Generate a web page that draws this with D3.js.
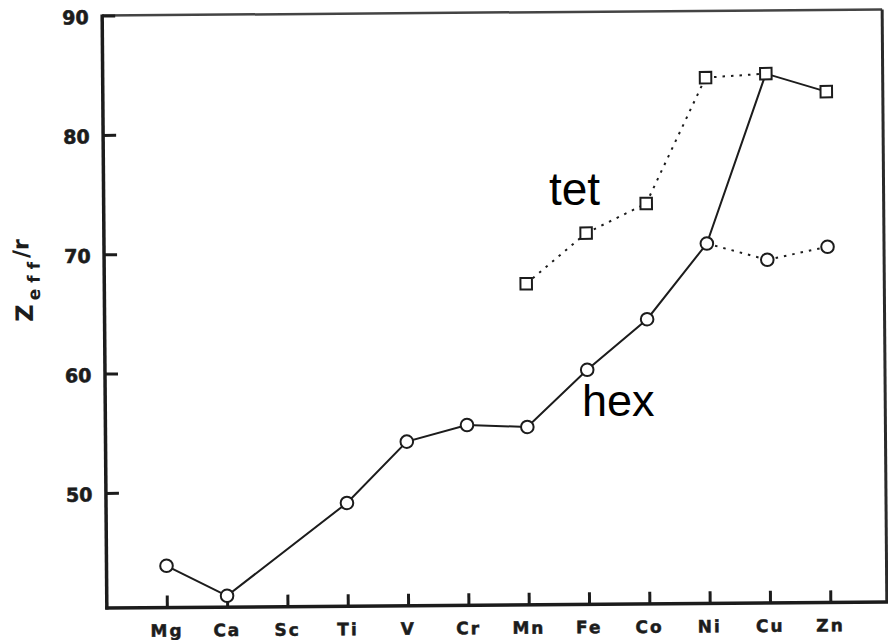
<!DOCTYPE html>
<html>
<head>
<meta charset="utf-8">
<script src="https://cdn.jsdelivr.net/npm/d3@7"></script>
<style>
  html, body { margin: 0; padding: 0; background: #fff; }
  svg { display: block; }
</style>
</head>
<body>
<svg id="chart" width="888" height="640"></svg>
<script>
// Elements along the first transition row
const categories = ["Mg", "Ca", "Sc", "Ti", "V", "Cr", "Mn", "Fe", "Co", "Ni", "Cu", "Zn"];
// Z_eff / r for hexacoordinated (octahedral) sites
const hexValues = [43.85, 41.3, null, 49.0, 54.1, 55.45, 55.25, 60.0, 64.2, 70.5, 69.1, 70.15];
// Z_eff / r for tetrahedral sites
const tetValues = [null, null, null, null, null, null, 67.25, 71.45, 73.9, 84.4, 84.7, 83.15];
// Which coordination gives the preferred (solid-line) value for each element
const preferred = ["hex", "hex", "hex", "hex", "hex", "hex", "hex", "hex", "hex", "hex", "tet", "tet"];
const yTicks = [50, 60, 70, 80, 90];
const yDomain = [40.35, 90];

const svg = d3.select("#chart");
const ink = "#1c1c1c";

const plotLeft = 104.5, plotRight = 884.5, plotTop = 12.5, plotBottom = 605;

const x = d3.scalePoint().domain(categories).range([164.5, 828]);
const y = d3.scaleLinear().domain(yDomain).range([plotBottom, plotTop]);

const seriesValues = { hex: hexValues, tet: tetValues };

// the whole plotted sheet sits very slightly askew
const g = svg.append("g").attr("transform", "rotate(-0.45, 495, 310)");

// frame
g.append("line").attr("x1", plotLeft).attr("x2", plotRight).attr("y1", plotTop).attr("y2", plotTop)
  .attr("stroke", "#444").attr("stroke-width", 2.5);
g.append("line").attr("x1", plotRight).attr("x2", plotRight).attr("y1", plotTop).attr("y2", plotBottom)
  .attr("stroke", "#2a2a2a").attr("stroke-width", 3);

// y axis, ticks pointing inward
const yAxis = d3.axisRight(y).tickValues(yTicks).tickSize(13).tickFormat("");
const ya = g.append("g").attr("transform", `translate(${plotLeft},0)`).call(yAxis);
ya.select(".domain").remove();
ya.selectAll(".tick line").attr("stroke", ink).attr("stroke-width", 3);
g.append("line").attr("x1", plotLeft).attr("x2", plotLeft).attr("y1", plotTop - 1).attr("y2", plotBottom + 1.5)
  .attr("stroke", ink).attr("stroke-width", 3.5);

g.selectAll(".ylab").data(yTicks).join("text")
  .attr("class", "ylab")
  .attr("x", 91)
  .attr("y", d => y(d) + 1.5)
  .attr("text-anchor", "end")
  .attr("dominant-baseline", "central")
  .attr("font-family", "DejaVu Sans")
  .attr("font-weight", "bold")
  .attr("font-size", 19)
  .attr("stroke", ink)
  .attr("stroke-width", 0.6)
  .attr("fill", ink)
  .text(d => d);

// x axis, ticks pointing upward
const xAxis = d3.axisTop(x).tickSize(12).tickFormat("");
const xa = g.append("g").attr("transform", `translate(0,${plotBottom})`).call(xAxis);
xa.select(".domain").remove();
xa.selectAll(".tick line").attr("stroke", ink).attr("stroke-width", 3);
g.append("line").attr("x1", plotLeft - 1.5).attr("x2", plotRight + 1.5).attr("y1", plotBottom).attr("y2", plotBottom)
  .attr("stroke", ink).attr("stroke-width", 3.5);

g.selectAll(".xlab").data(categories).join("text")
  .attr("class", "xlab")
  .attr("x", d => x(d))
  .attr("y", 634)
  .attr("text-anchor", "middle")
  .attr("font-family", "DejaVu Sans")
  .attr("font-weight", "bold")
  .attr("font-size", 17)
  .attr("letter-spacing", 2)
  .attr("stroke", ink)
  .attr("stroke-width", 0.5)
  .attr("fill", ink)
  .text(d => d);

// y axis title: Z_eff / r
const title = g.append("text")
  .attr("transform", "translate(33,318) rotate(-90)")
  .attr("font-family", "DejaVu Sans")
  .attr("font-weight", "bold")
  .attr("fill", ink);
title.append("tspan").attr("font-size", 24).text("Z");
title.append("tspan").attr("font-size", 17).attr("dy", 7).attr("dx", 4)
  .attr("letter-spacing", 6).text("eff");
title.append("tspan").attr("font-size", 22).attr("dy", -11).attr("dx", -2).text("/r");

// build point records
const points = {};
for (const key of ["hex", "tet"]) {
  points[key] = categories.map((c, i) => ({
    cat: c, i, key, v: seriesValues[key][i], ground: preferred[i] === key
  }));
}

const line = d3.line().x(d => x(d.cat)).y(d => y(d.v));

// dotted segments: consecutive points of a series where either end is not preferred
const dotted = [];
for (const key of ["hex", "tet"]) {
  const p = points[key];
  for (let i = 0; i < p.length - 1; i++) {
    const a = p[i], b = p[i + 1];
    if (a.v == null || b.v == null) continue;
    if (a.ground && b.ground) continue;
    dotted.push([a, b]);
  }
}
g.selectAll(".dotted").data(dotted).join("path")
  .attr("class", "dotted")
  .attr("d", line)
  .attr("fill", "none")
  .attr("stroke", ink)
  .attr("stroke-width", 2)
  .attr("stroke-dasharray", "2.5,6");

// solid line through the preferred coordination
const solid = categories.map((c, i) => {
  const key = preferred[i];
  return { cat: c, v: seriesValues[key][i] };
}).filter(d => d.v != null);
g.append("path").datum(solid)
  .attr("d", line)
  .attr("fill", "none")
  .attr("stroke", ink)
  .attr("stroke-width", 2);

// markers
g.selectAll(".hexpt").data(points.hex.filter(d => d.v != null)).join("circle")
  .attr("class", "hexpt")
  .attr("cx", d => x(d.cat)).attr("cy", d => y(d.v)).attr("r", 6.3)
  .attr("fill", "#fff").attr("stroke", ink).attr("stroke-width", 2);

const s = 11.5;
g.selectAll(".tetpt").data(points.tet.filter(d => d.v != null)).join("rect")
  .attr("class", "tetpt")
  .attr("x", d => x(d.cat) - s / 2).attr("y", d => y(d.v) - s / 2)
  .attr("width", s).attr("height", s)
  .attr("fill", "#fff").attr("stroke", ink).attr("stroke-width", 2);

// series names
svg.append("text").attr("x", 549).attr("y", 205)
  .attr("font-family", "Liberation Sans, Arial, sans-serif").attr("font-size", 46)
  .attr("fill", "#000").text("tet");
svg.append("text").attr("x", 582).attr("y", 416)
  .attr("font-family", "Liberation Sans, Arial, sans-serif").attr("font-size", 45)
  .attr("fill", "#000").text("hex");
</script>
</body>
</html>
